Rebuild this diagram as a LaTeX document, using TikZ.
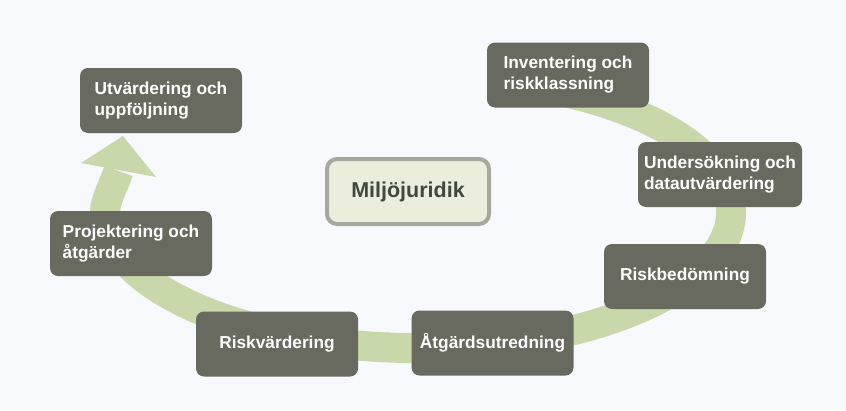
\documentclass[tikz,border=0pt]{standalone}
\usepackage{fontspec}
\setmainfont{Liberation Sans}
\usepackage{tikz}
\usetikzlibrary{positioning}

\definecolor{bgcol}{HTML}{F8F9FC}
\definecolor{boxgrey}{HTML}{696A5F}
\definecolor{bandgreen}{HTML}{C8D8AA}
\definecolor{centrefill}{HTML}{EBEEDD}
\definecolor{centreline}{HTML}{A8A99E}
\definecolor{centretext}{HTML}{3D4A3D}

\tikzset{
  stepbox/.style={fill=boxgrey, rounded corners=8pt, minimum width=162pt, minimum height=65pt,
    inner sep=0pt, text=white, align=left, font=\bfseries\fontsize{17.3}{21}\selectfont},
  centrebox/.style={draw=centreline, line width=4pt, fill=centrefill, rounded corners=10pt,
    minimum width=162pt, minimum height=65pt, text=centretext, font=\bfseries\fontsize{21.5}{25}\selectfont}
}

\begin{document}
\begin{tikzpicture}[x=1pt, y=-1pt]

\fill[bgcol] (0,0) rectangle (846,410);
\useasboundingbox (0,0) rectangle (846,410);

\draw[bandgreen, line width=30pt] (545.3,87.8) arc[start angle=-66, end angle=180, x radius=313, y radius=136]
  .. controls (105,200) and (114,185) .. (118.5,171);
\fill[bandgreen] (81,163) -- (123,136) -- (156,177) -- cycle;

\node[centrebox] (mil) at (408,191.5) {Miljöjuridik};

\node[stepbox] (inv) at (568,75) {Inventering och\\riskklassning};
\node[stepbox, minimum width=164pt] (und) at (720,174.5) {Undersökning och\\datautvärdering};
\node[stepbox] (riskb) at (685,276.5) {Riskbedömning};
\node[stepbox] (atg) at (492.5,343) {Åtgärdsutredning};
\node[stepbox] (riskv) at (277,344) {Riskvärdering};
\node[stepbox] (proj) at (131,243.5) {Projektering och\\åtgärder};
\node[stepbox] (utv) at (161,100.5) {Utvärdering och\\uppföljning};

\end{tikzpicture}
\end{document}
